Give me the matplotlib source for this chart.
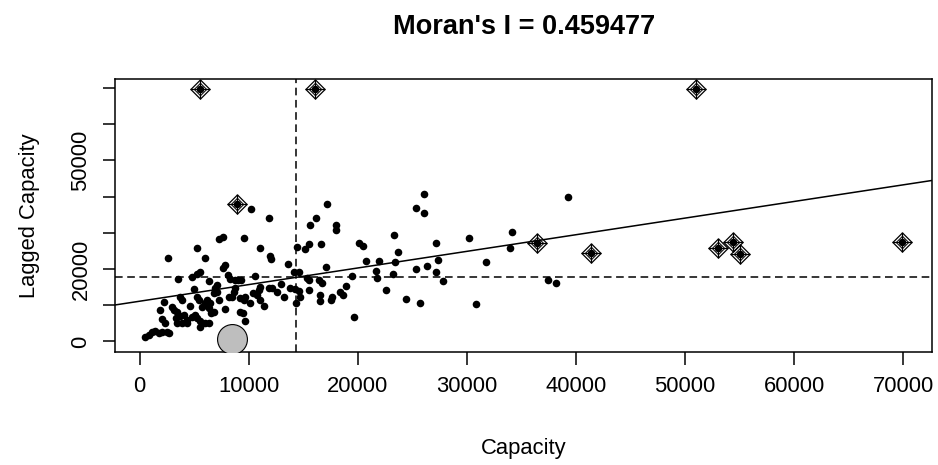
import numpy as np
import matplotlib
matplotlib.use("Agg")
import matplotlib.pyplot as plt

# -----------------------------------------
# Moran scatterplot data
# -----------------------------------------
capacity = [513, 825, 1128, 1430, 1742, 2045, 2503, 2659,
            1834, 2200, 2045, 2962, 3117, 3420, 3879, 3723, 4034, 3723,
            4337, 4795, 5098, 5254, 5557, 3420, 3879, 4337, 5557, 6015,
            6327, 5410, 5254, 5006, 6171, 6015, 5712, 6327, 6565, 6473,
            6785, 7088, 6932, 7088, 7244, 3512, 4795, 5254, 5501, 6327,
            2567, 6015, 5254, 7244, 7638, 9536, 10205, 11883, 11003, 11977,
            12041, 7638, 7849, 8096, 8307, 8766, 9288, 10599, 8766, 8619,
            8463, 8161, 9224, 9536, 9683, 9224, 9472, 9683, 10141, 11058,
            10911, 10755, 11058, 11370, 11828, 12131, 12589, 13203, 13570, 13809,
            14267, 14579, 14120, 14579, 14331, 14726, 14423, 15129, 15496, 15643,
            16165, 17174, 18026, 18026, 16624, 15340, 15496, 16413, 16715, 17054,
            15496, 16559, 16559, 17604, 17540, 18366, 18668, 18888, 19466, 19649,
            20080, 20502, 20750, 21942, 21667, 21731, 22584, 23253, 23345, 23712,
            23409, 24390, 25334, 26095, 26095, 25334, 26315, 27168, 27379, 27168,
            27782, 25701, 30221, 30835, 31752, 33953, 34109, 37465, 38144, 39244,
            9041, 7800, 13000, 4600, 6800, 10400, 2300, 3300]
lagged = [1299, 1768, 2680, 2956, 2404, 2680, 2680, 2238,
          8676, 10969, 6106, 9588, 8676, 8206, 11439, 12351, 7294, 7018,
          5913, 6659, 7294, 6383, 5719, 5001, 5001, 5001, 4062, 5001,
          5001, 11439, 12351, 14395, 11439, 10527, 9588, 9146, 7764, 10527,
          13290, 13732, 14671, 15583, 11439, 17241, 17876, 18623, 19092, 16689,
          23126, 23126, 25889, 28210, 28763, 28652, 36499, 34179, 25889, 23596,
          22684, 20198, 21109, 18346, 17241, 16965, 16965, 18070, 14671, 13732,
          12351, 12351, 11909, 11439, 12351, 8206, 7764, 5719, 10527, 15114,
          14202, 12820, 11439, 9781, 14671, 14671, 13732, 12351, 21303, 14671,
          14395, 14008, 19258, 19258, 10527, 12351, 26166, 25447, 26912, 32161,
          34179, 37963, 32161, 30780, 26912, 17435, 16965, 16965, 16053, 20474,
          14202, 12820, 11245, 12351, 11439, 13732, 12820, 15307, 18070, 6825,
          27105, 26359, 22297, 22297, 19535, 17435, 14202, 18540, 29398, 24784,
          22021, 11632, 36776, 35615, 40727, 20004, 20833, 27105, 22491, 19258,
          16689, 10693, 28652, 10251, 22021, 25889, 30144, 16965, 16219, 39898,
          16965, 9000, 16000, 9800, 8200, 13400, 5000, 6400]

# influential observations (drawn with diamond-plus symbol)
infl_capacity = [5556, 16045, 51007, 8923, 36408, 41363, 52995, 54407, 55012, 69836]
infl_lagged = [69822, 69822, 69822, 37963, 27271, 24342, 25889, 27547, 24066, 27547]

# highlighted observation (grey circle)
highlight_capacity = [8463]
highlight_lagged = [580]

capacity_mean = 14359
lagged_mean = 17712
morans_i = 0.459477

xticks = [0, 10000, 20000, 30000, 40000, 50000, 60000, 70000]
xtick_labels = ["0", "10000", "20000", "30000", "40000", "50000", "60000", "70000"]
yticks = [0, 10000, 20000, 30000, 40000, 50000, 60000, 70000]
ytick_labels = ["0", "", "20000", "", "", "50000", "", ""]

# -----------------------------------------
# Plot
# -----------------------------------------
plt.rcParams["font.family"] = ["Liberation Sans", "DejaVu Sans"]

fig = plt.figure(figsize=(9.38, 4.65), dpi=100)
ax = fig.add_axes([115 / 938, 1 - 352.3 / 465, 817.3 / 938, 273.6 / 465])

ax.scatter(capacity, lagged, s=30, color="black", linewidths=0, zorder=3)
ax.scatter(infl_capacity, infl_lagged, s=30, color="black", linewidths=0, zorder=3)

ax.axhline(lagged_mean, color="black", lw=1.1, dashes=(5, 3), zorder=2)
ax.axvline(capacity_mean, color="black", lw=1.1, dashes=(5, 3), zorder=2)

# regression line through the means, slope = Moran's I
xl = np.array([-5000, 80000])
ax.plot(xl, lagged_mean + morans_i * (xl - capacity_mean), color="black", lw=1.1, zorder=2)

diamond = [(0, 1), (1, 0), (0, -1), (-1, 0), (0, 1)]
ax.plot(infl_capacity, infl_lagged, linestyle="none", marker=diamond, markersize=13.8,
        markerfacecolor="none", markeredgecolor="black", markeredgewidth=0.9, zorder=4)
ax.plot(infl_capacity, infl_lagged, linestyle="none", marker=diamond, markersize=9,
        markerfacecolor="none", markeredgecolor="black", markeredgewidth=0.7, zorder=4)
ax.plot(infl_capacity, infl_lagged, linestyle="none", marker="+", markersize=13.8,
        markeredgecolor="black", markeredgewidth=0.9, zorder=4)

ax.plot(highlight_capacity, highlight_lagged, linestyle="none", marker="o", markersize=21.5,
        markerfacecolor="#BEBEBE", markeredgecolor="black", markeredgewidth=0.8, zorder=5)

ax.set_xlim(-2260, 72650)
ax.set_ylim(-3000, 72600)
ax.set_xticks(xticks)
ax.set_xticklabels(xtick_labels)
ax.set_yticks(yticks)
ax.set_yticklabels(ytick_labels)
plt.setp(ax.get_yticklabels(), rotation=90, va="center")

for sp in ax.spines.values():
    sp.set_linewidth(1.1)
ax.tick_params(direction="out", length=9, width=1.1, pad=8, labelsize=15.8)

fig.text(523.7 / 938, 1 - 27 / 465, "Moran's I = 0.459477", ha="center", va="center",
         fontsize=19.5, fontweight="bold")
fig.text(523.7 / 938, 1 - 448 / 465, "Capacity", ha="center", va="center", fontsize=15.8)
fig.text(30 / 938, 1 - 215.5 / 465, "Lagged Capacity", ha="center", va="center",
         rotation=90, fontsize=15.8)

fig.savefig("out.png", dpi=100)
